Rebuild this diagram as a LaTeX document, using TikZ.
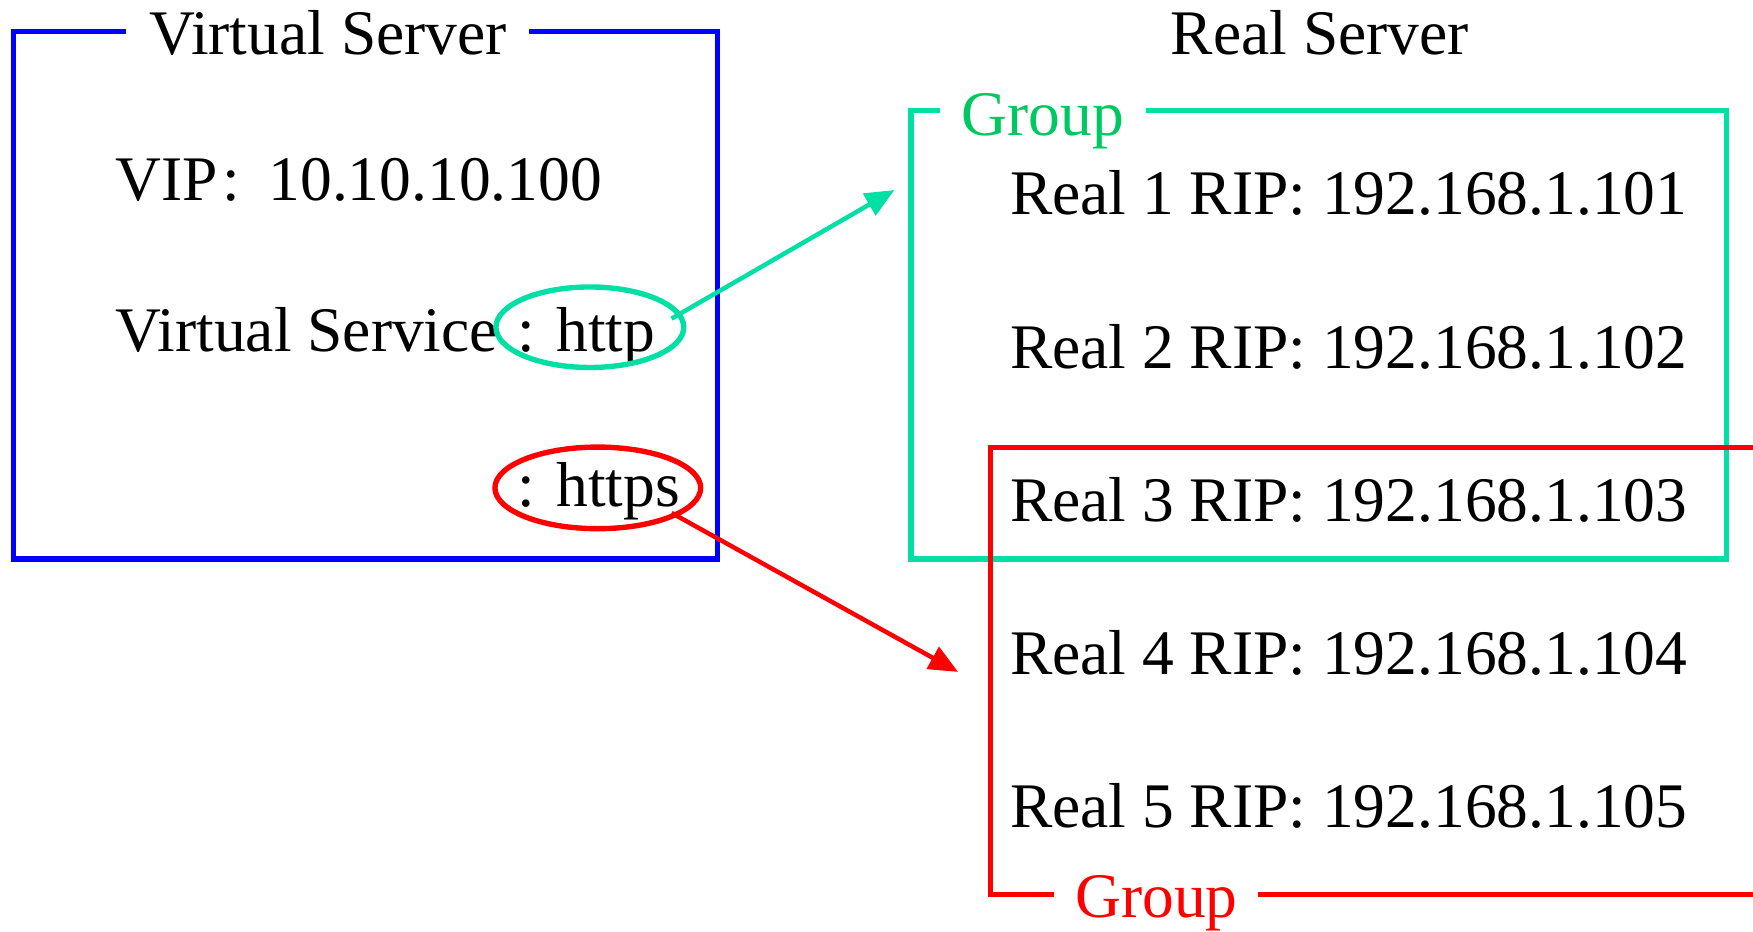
\documentclass[tikz,border=0pt]{standalone}
\usepackage{fontspec}
\setmainfont{Liberation Serif}
\usetikzlibrary{shapes.geometric,arrows.meta}
\definecolor{vsblue}{RGB}{0,0,255}
\definecolor{grpline}{RGB}{0,224,164}
\definecolor{grptext}{RGB}{0,200,96}
\definecolor{grpred}{RGB}{255,0,0}
\tikzset{
  lbl/.style={inner sep=0pt, anchor=base west, font=\fontsize{28.4}{34}\selectfont},
  frame/.style={line width=2.4pt},
  ring/.style={ellipse, line width=2.4pt, inner sep=0pt},
  link/.style={line width=2pt, -{Triangle[length=13pt,width=11pt]}},
}
\begin{document}
\begin{tikzpicture}[x=0.5pt,y=-0.5pt]
\useasboundingbox (0,0) rectangle (1568,833);

% Virtual server frame with its title set into the top edge
\draw[frame, vsblue] (113,28) -- (12,28) -- (12,500) -- (642,500) -- (642,28) -- (473,28);
\node[lbl] (vstitle) at (133,49) {Virtual Server};
\node[lbl] (vip) at (103,179) {VIP\kern0.07em:\kern0.45em10.10.10.100};
\node[lbl] (vsvc) at (103,314) {Virtual Service};
\node[lbl] (http) at (462.7,314) {: http};
\node[lbl] (https) at (462.7,453) {: https};

% Rings around the two services
\node[ring, draw=grpline, minimum width=84pt, minimum height=36pt] (httpE) at (527.6,292.7) {};
\node[ring, draw=grpred, minimum width=92pt, minimum height=36.5pt] (httpsE) at (534.7,436.4) {};

% Real server side
\node[lbl] (rstitle) at (1047,49) {Real Server};
\node[lbl] (r1) at (903,192) {Real 1 RIP: 192.168.1.101};
\node[lbl] (r2) at (903,329.5) {Real 2 RIP: 192.168.1.102};
\node[lbl] (r3) at (903,466.5) {Real 3 RIP: 192.168.1.103};
\node[lbl] (r4) at (903,603.5) {Real 4 RIP: 192.168.1.104};
\node[lbl] (r5) at (903,740.5) {Real 5 RIP: 192.168.1.105};

% Green group (Real 1-3)
\draw[frame, grpline] (841,99) -- (815,99) -- (815,500) -- (1544,500) -- (1544,99) -- (1025,99);
\node[lbl, text=grptext] (ggrp) at (860,121) {Group};

% Red group (Real 3-5), running off the right edge
\draw[frame, grpred] (1570,400) -- (886,400) -- (886,800) -- (942.5,800);
\draw[frame, grpred] (1125,800) -- (1570,800);
\node[lbl, text=grpred] (rgrp) at (961.4,821) {Group};

% Service-to-group links
\coordinate (gs) at (600.7,285);
\coordinate (gt) at (800,170);
\coordinate (rs) at (600.7,458.8);
\coordinate (rt) at (857,601);
\draw[link, grpline] (gs) -- (gt);
\draw[link, grpred] (rs) -- (rt);
\end{tikzpicture}
\end{document}
